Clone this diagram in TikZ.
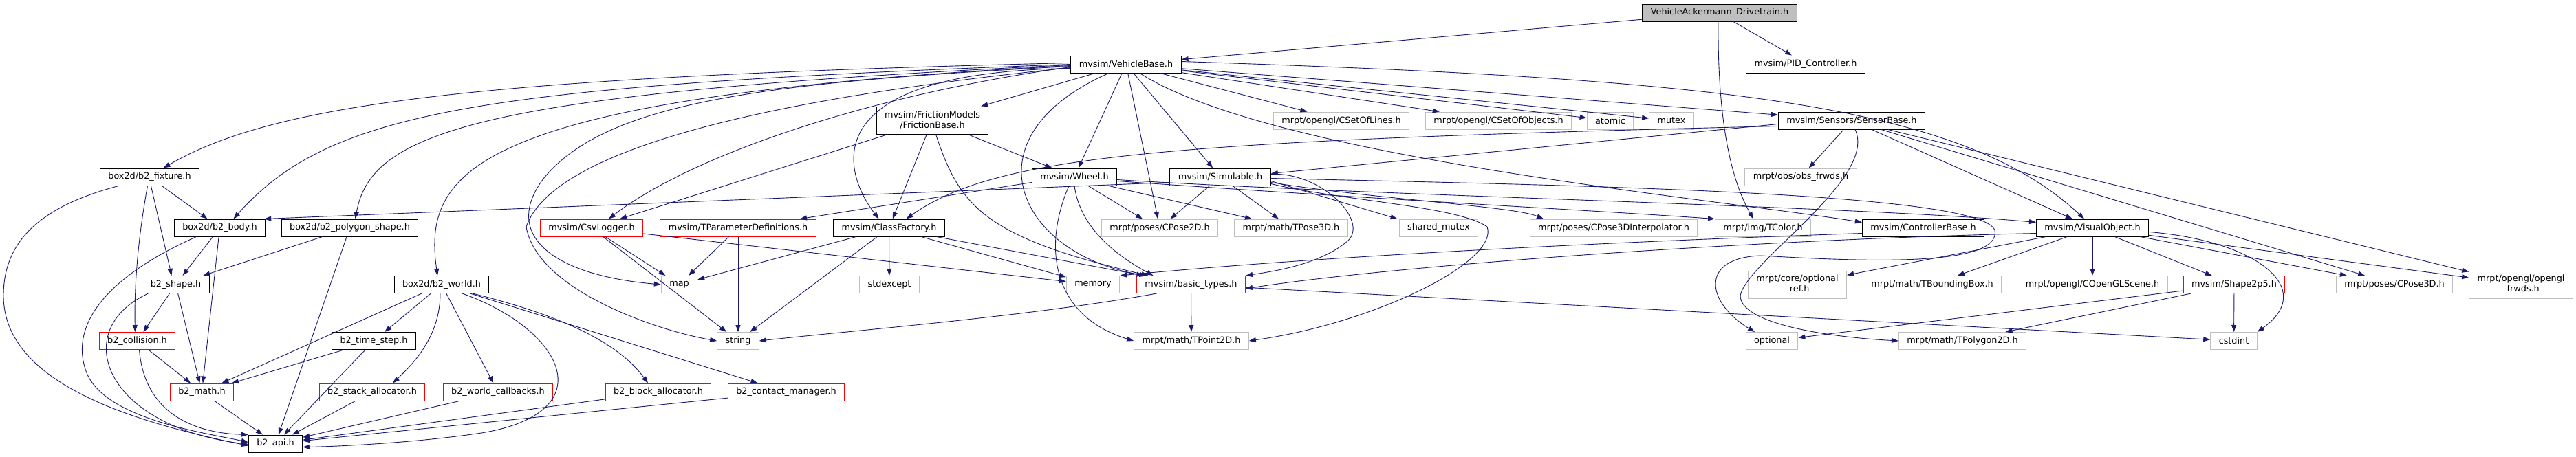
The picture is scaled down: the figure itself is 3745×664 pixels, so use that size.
\documentclass[tikz,border=0pt]{standalone}
\usepackage{fontspec}
\setmainfont{DejaVu Sans}
\usetikzlibrary{arrows.meta,positioning}
\definecolor{edgeblue}{HTML}{191970}
\definecolor{grey75}{HTML}{BFBFBF}
\begin{document}
\begin{tikzpicture}
		[x=1pt, y=-1pt, inner sep=0pt,
		font=\fontsize{12.8}{15}\selectfont,
		header/.style	= {rectangle,draw=black,line width=1pt,inner xsep=12pt,minimum height=25pt,fill=white,align=center},
		rootfile/.style	= {header,fill=grey75},
		truncated/.style	= {header,draw=red},
		external/.style	= {header,draw=grey75},
		twoline/.style	= {minimum height=40pt},
		paths/.style	= {-{Triangle[length=10pt,width=7pt]}, draw=edgeblue, line width=0.9pt}]

		\useasboundingbox (0,0) rectangle (3745,664);

		% top rows
		\node at (2500, 18.5)	[rootfile]	(vad)	{VehicleAckermann\_Drivetrain.h};
		\node at (1637, 93.5)	[header]	(vb)	{mvsim/VehicleBase.h};
		\node at (2625, 93.5)	[header]	(pid)	{mvsim/PID\_Controller.h};

		\node at (1355.5, 175)	[header,twoline]	(fric)	{mvsim/FrictionModels\\/FrictionBase.h};
		\node at (1950, 175.5)	[external]	(lines)	{mrpt/opengl/CSetOfLines.h};
		\node at (2178.5, 175.5)	[external]	(objs)	{mrpt/opengl/CSetOfObjects.h};
		\node at (2341, 175.5)	[external]	(atomic)	{atomic};
		\node at (2430, 175.5)	[external]	(mutex)	{mutex};
		\node at (2692, 175.5)	[header]	(sens)	{mvsim/Sensors/SensorBase.h};

		\node at (217.5, 257.5)	[header]	(fix)	{box2d/b2\_fixture.h};
		\node at (1562, 257.5)	[header]	(wheel)	{mvsim/Wheel.h};
		\node at (1774, 257.5)	[header]	(simul)	{mvsim/Simulable.h};
		\node at (2618, 257.5)	[external]	(obs)	{mrpt/obs/obs\_frwds.h};

		\node at (319.5, 331.5)	[header]	(body)	{box2d/b2\_body.h};
		\node at (508.5, 331.5)	[header]	(poly)	{box2d/b2\_polygon\_shape.h};
		\node at (860, 331.5)	[truncated]	(csv)	{mvsim/CsvLogger.h};
		\node at (1073, 331.5)	[truncated]	(tparam)	{mvsim/TParameterDefinitions.h};
		\node at (1292.5, 331.5)	[header]	(cfact)	{mvsim/ClassFactory.h};
		\node at (1686, 331.5)	[external]	(cpose2)	{mrpt/poses/CPose2D.h};
		\node at (1877, 331.5)	[external]	(tpose3)	{mrpt/math/TPose3D.h};
		\node at (2091.5, 331.5)	[external]	(shmutex)	{shared\_mutex};
		\node at (2346, 331.5)	[external]	(interp)	{mrpt/poses/CPose3DInterpolator.h};
		\node at (2563, 331.5)	[external]	(tcolor)	{mrpt/img/TColor.h};
		\node at (2796, 331.5)	[header]	(ctrl)	{mvsim/ControllerBase.h};
		\node at (3042, 331.5)	[header]	(visual)	{mvsim/VisualObject.h};

		\node at (255.5, 414)	[header]	(shape)	{b2\_shape.h};
		\node at (642, 414)	[header]	(world)	{box2d/b2\_world.h};
		\node at (987.5, 414)	[external]	(map)	{map};
		\node at (1293, 414)	[external]	(stdexc)	{stdexcept};
		\node at (1589, 414)	[external]	(memory)	{memory};
		\node at (1731.5, 414)	[truncated]	(basic)	{mvsim/basic\_types.h};
		\node at (2613, 414)	[external,twoline]	(optref)	{mrpt/core/optional\\\_ref.h};
		\node at (2809, 414)	[external]	(bbox)	{mrpt/math/TBoundingBox.h};
		\node at (3042, 414)	[external]	(scene)	{mrpt/opengl/COpenGLScene.h};
		\node at (3248, 414)	[truncated]	(shp25)	{mvsim/Shape2p5.h};
		\node at (3481, 414)	[external]	(cpose3)	{mrpt/poses/CPose3D.h};
		\node at (3665, 414)	[external,twoline]	(glfwd)	{mrpt/opengl/opengl\\\_frwds.h};

		\node at (199.5, 496)	[truncated]	(coll)	{b2\_collision.h};
		\node at (543.5, 496)	[header]	(tstep)	{b2\_time\_step.h};
		\node at (1073, 496)	[external]	(string)	{string};
		\node at (1732, 496)	[external]	(tpoint)	{mrpt/math/TPoint2D.h};
		\node at (2576, 496)	[external]	(optional)	{optional};
		\node at (2853, 496)	[external]	(tpoly)	{mrpt/math/TPolygon2D.h};
		\node at (3247.5, 496)	[external]	(cstdint)	{cstdint};

		\node at (293.5, 570.5)	[truncated]	(math)	{b2\_math.h};
		\node at (541, 570.5)	[truncated]	(stack)	{b2\_stack\_allocator.h};
		\node at (724, 570.5)	[truncated]	(wcb)	{b2\_world\_callbacks.h};
		\node at (957, 570.5)	[truncated]	(block)	{b2\_block\_allocator.h};
		\node at (1143, 570.5)	[truncated]	(contact)	{b2\_contact\_manager.h};

		\node at (400.5, 645.5)	[header]	(api)	{b2\_api.h};

		% root file
		\draw [paths] (vad) -- (vb);
		\draw [paths] ([xshift=20pt]vad.south) -- ([xshift=-20pt]pid.north);
		\draw [paths] ([xshift=-2pt]vad.south) .. controls (2497,150) and (2510,250) .. ([xshift=-14pt]tcolor.north);

		% VehicleBase
		\draw [paths] (vb) -- (fric);
		\draw [paths] (vb) -- (wheel);
		\draw [paths] (vb) -- (simul);
		\draw [paths] (vb) -- (cpose2);
		\draw [paths] (vb) -- (lines);
		\draw [paths] (vb) -- (objs);
		\draw [paths] (vb) -- (atomic);
		\draw [paths] (vb) -- (mutex);
		\draw [paths] (vb) -- (sens);
		\draw [paths] ([yshift=4pt]vb.east) .. controls (2500,115) and (2850,150) .. ([xshift=-12pt]visual.north);
		\draw [paths] ([yshift=2pt]vb.west) .. controls (700,112) and (400,150) .. ([xshift=20pt]fix.north);
		\draw [paths] ([yshift=0pt]vb.west) .. controls (700,125) and (480,160) .. ([xshift=20pt]body.north);
		\draw [paths] ([yshift=-1pt]vb.west) .. controls (700,135) and (540,190) .. ([xshift=8pt]poly.north);
		\draw [paths] ([yshift=-2pt]vb.west) .. controls (680,140) and (615,250) .. ([xshift=-6pt]world.north);
		\draw [paths] ([yshift=-4pt]vb.west) .. controls (1250,140) and (1000,230) .. ([xshift=25pt]csv.north);
		\draw [paths] ([yshift=-6pt]vb.west) .. controls (1180,105) and (1225,250) .. ([xshift=-15pt]cfact.north);
		\draw [paths] ([xshift=-25pt]vb.south) .. controls (1400,200) and (1480,370) .. ([xshift=-65pt]basic.north);
		\draw [paths] ([yshift=-3pt]vb.west) .. controls (1100,120) and (880,150) .. (790,260) .. controls (730,340) and (800,400) .. (map.west);
		\draw [paths] ([yshift=-5pt]vb.west) .. controls (1050,150) and (800,230) .. (765,330) .. controls (780,420) and (950,480) .. (string.west);
		\draw [paths] ([xshift=20pt]vb.south) .. controls (1850,230) and (2500,290) .. ([yshift=8pt]ctrl.west);

		% FrictionBase
		\draw [paths] (fric) -- (wheel);
		\draw [paths] (fric) -- (cfact);
		\draw [paths] (fric) -- (csv);
		\draw [paths] ([xshift=5pt]fric.south) .. controls (1395,300) and (1430,345) .. ([xshift=-62pt]basic.north);

		% SensorBase
		\draw [paths] (sens) -- (obs);
		\draw [paths] (sens) -- (visual);
		\draw [paths] (sens) -- (cpose3);
		\draw [paths] (sens) -- (glfwd);
		\draw [paths] ([yshift=-5pt]sens.west) -- ([yshift=5pt]simul.east);
		\draw [paths] ([yshift=-8pt]sens.west) .. controls (1700,205) and (1450,225) .. ([xshift=25pt]cfact.north);
		\draw [paths] ([xshift=5pt]sens.south) .. controls (2730,260) and (2540,380) .. (2530,430) .. controls (2530,470) and (2650,490) .. (tpoly.west);

		% Wheel
		\draw [paths] ([yshift=-8pt]wheel.west) -- ([xshift=90pt]tparam.north);
		\draw [paths] ([xshift=20pt]wheel.south) -- ([xshift=-25pt]cpose2.north);
		\draw [paths] ([xshift=50pt]wheel.south) -- ([xshift=-57pt]tpose3.north);
		\draw [paths] ([xshift=-8pt]wheel.south) .. controls (1515,360) and (1530,460) .. (tpoint.west);
		\draw [paths] (wheel.south) .. controls (1570,330) and (1620,370) .. ([xshift=-55pt]basic.north);
		\draw [paths] ([yshift=-4pt]wheel.east) .. controls (2000,285) and (2700,300) .. ([yshift=8pt]visual.west);
		\draw [paths] ([yshift=-6pt]wheel.east) .. controls (2000,290) and (2300,305) .. (tcolor.north west);

		% Simulable
		\draw [paths] ([yshift=-8pt]simul.west) -- ([xshift=-2pt]body.north east);
		\draw [paths] (simul) -- (cpose2);
		\draw [paths] (simul) -- (tpose3);
		\draw [paths] ([yshift=-6pt]simul.east) -- ([xshift=-60pt]shmutex.north);
		\draw [paths] ([yshift=-8pt]simul.east) .. controls (2000,290) and (2200,300) .. ([xshift=-102pt]interp.north);
		\draw [paths] ([yshift=4pt]simul.east) .. controls (1920,250) and (1990,320) .. (1960,350) .. controls (1920,385) and (1850,395) .. (basic.north east);
		\draw [paths] ([yshift=-10pt]simul.east) .. controls (1950,292) and (2120,300) .. (2162,330) .. controls (2180,380) and (2000,470) .. (tpoint.east);
		\draw [paths] ([yshift=-2pt]simul.east) .. controls (2300,270) and (2880,280) .. (2900,335) .. controls (2910,390) and (2700,380) .. (2560,372) .. controls (2470,375) and (2480,440) .. ([xshift=-25pt]optional.north);

		% VisualObject
		\draw [paths] (visual) -- (scene);
		\draw [paths] (visual) -- (optref);
		\draw [paths] (visual) -- (bbox);
		\draw [paths] (visual) -- (shp25);
		\draw [paths] (visual) -- (cpose3);
		\draw [paths] (visual) -- (glfwd);
		\draw [paths] ([yshift=-6pt]visual.east) .. controls (3280,350) and (3370,420) .. (cstdint.north east);
		\draw [paths] ([yshift=-8pt]visual.west) .. controls (2500,350) and (2000,390) .. ([yshift=-6pt]basic.east);

		% ControllerBase
		\draw [paths] ([yshift=-8pt]ctrl.west) .. controls (2400,350) and (1950,370) .. (memory.north east);

		% Shape2p5, basic_types
		\draw [paths] (shp25) -- (cstdint);
		\draw [paths] (shp25) -- (optional);
		\draw [paths] (shp25) -- (tpoly);
		\draw [paths] (basic) -- (tpoint);
		\draw [paths] (basic) -- (cstdint);
		\draw [paths] ([xshift=-50pt]basic.south) .. controls (1500,460) and (1250,480) .. (string.east);

		% CsvLogger, TParameterDefinitions, ClassFactory
		\draw [paths] (csv) -- (map);
		\draw [paths] (csv) -- (string);
		\draw [paths] (csv) -- (memory);
		\draw [paths] (tparam) -- (map);
		\draw [paths] (tparam) -- (string);
		\draw [paths] (cfact) -- (map);
		\draw [paths] (cfact) -- (string);
		\draw [paths] (cfact) -- (stdexc);
		\draw [paths] (cfact) -- (memory);
		\draw [paths] (cfact) -- (basic);

		% box2d
		\draw [paths] (fix) -- (body);
		\draw [paths] ([xshift=2pt]fix.south) -- ([xshift=-6pt]shape.north);
		\draw [paths] ([xshift=-3pt]fix.south) .. controls (200,350) and (195,420) .. ([xshift=-3pt]coll.north);
		\draw [paths] ([xshift=-45pt]fix.south) .. controls (60,300) and (5,350) .. (5,430) .. controls (5,560) and (200,615) .. ([yshift=-3pt]api.west);
		\draw [paths] (body) -- (shape);
		\draw [paths] (body) -- (math);
		\draw [paths] ([xshift=-34pt]body.south) .. controls (160,400) and (100,470) .. (125,540) .. controls (150,610) and (300,630) .. ([yshift=2pt]api.west);
		\draw [paths] (poly) -- (shape);
		\draw [paths] (poly) -- (api);
		\draw [paths] (shape) -- (coll);
		\draw [paths] (shape) -- (math);
		\draw [paths] ([xshift=-40pt]shape.south) .. controls (100,480) and (150,620) .. ([yshift=-1pt]api.west);
		\draw [paths] (coll) -- (math);
		\draw [paths] ([xshift=3pt]coll.south) .. controls (210,600) and (280,630) .. (api.north west);
		\draw [paths] (math) -- (api);
		\draw [paths] (world) -- (tstep);
		\draw [paths] (world) -- (math);
		\draw [paths] ([xshift=-2pt]world.south) .. controls (640,490) and (600,530) .. ([xshift=30pt]stack.north);
		\draw [paths] (world) -- (wcb);
		\draw [paths] ([xshift=30pt]world.south) .. controls (820,480) and (880,600) .. (700,630) .. controls (600,645) and (480,650) .. ([yshift=-5pt]api.east);
		\draw [paths] ([xshift=45pt]world.south) .. controls (820,460) and (900,500) .. ([xshift=-15pt]block.north);
		\draw [paths] (world) -- (contact);
		\draw [paths] (tstep) -- (math);
		\draw [paths] (tstep) -- (api);
		\draw [paths] (stack) -- (api);
		\draw [paths] (wcb) -- (api);
		\draw [paths] (block) -- (api);
		\draw [paths] (contact) -- (api);

\end{tikzpicture}
\end{document}
